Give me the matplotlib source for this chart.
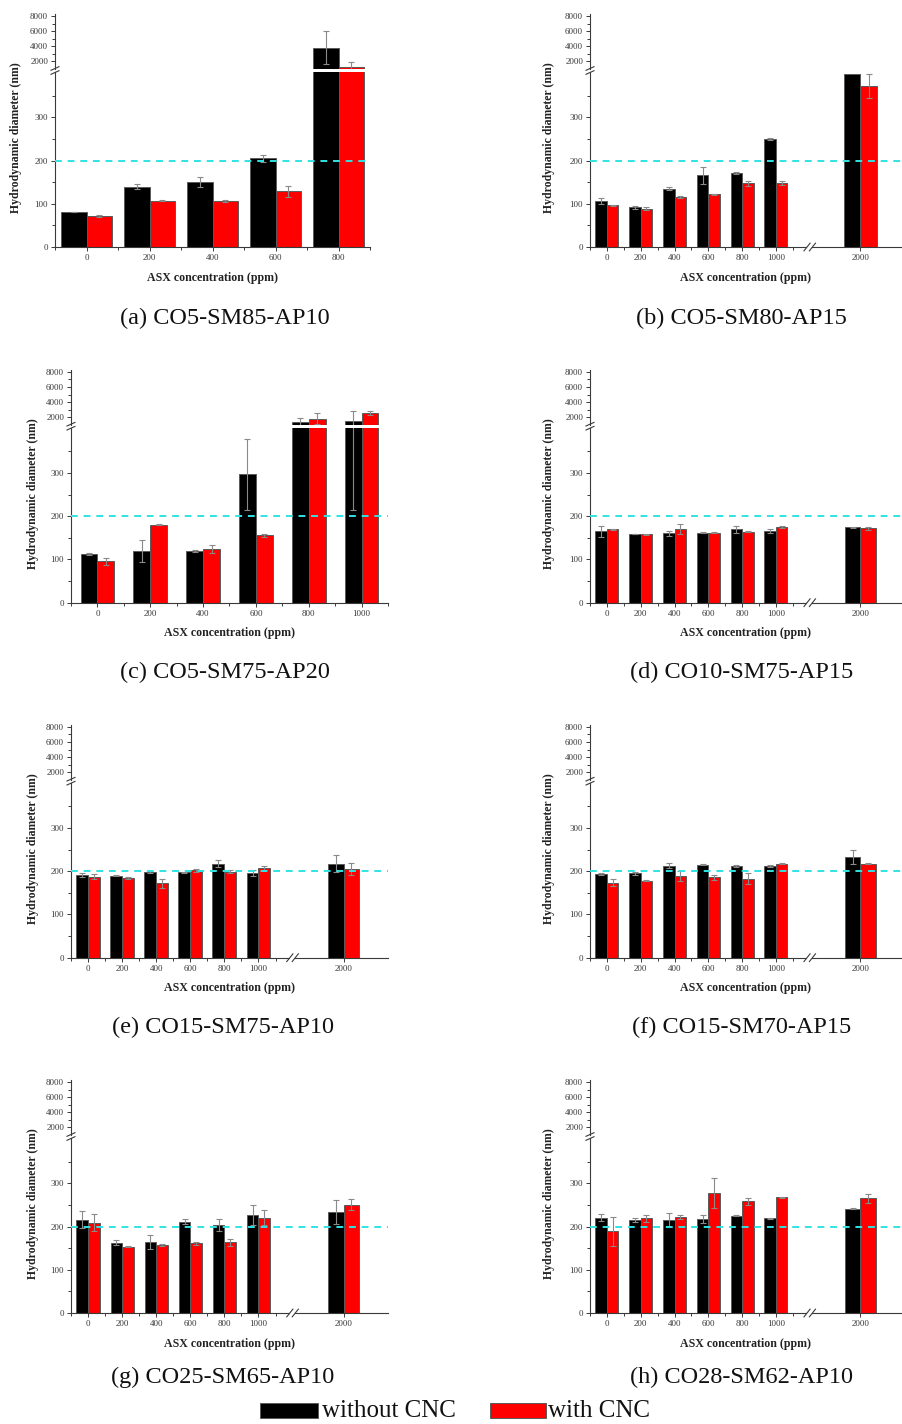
import matplotlib
matplotlib.use('Agg')
from matplotlib import pyplot as plt
from matplotlib.lines import Line2D
import matplotlib.patches as patches
import matplotlib.transforms as mtransforms
import numpy as np

plt.rcParams['font.family'] = ['Liberation Serif', 'DejaVu Serif']

W, H = 902, 1424

# concentrations (ppm)
labels5 = ['0', '200', '400', '600', '800']
labels6 = ['0', '200', '400', '600', '800', '1000']
labels7 = ['0', '200', '400', '600', '800', '1000', '2000']
pos5 = [0, 1, 2, 3, 4]
pos6 = [0, 1, 2, 3, 4, 5]
pos7 = [0, 1, 2, 3, 4, 5, 7.5]

# hydrodynamic diameter (nm), without / with CNC, and error bars
a_without = [81, 140, 151, 205, 3800]
a_without_err = [1, 5, 12, 8, 2200]
a_with = [71, 107, 106, 129, 1300]
a_with_err = [2, 1, 2, 13, 600]

b_without = [107, 92, 135, 166, 172, 250, 400]
b_without_err = [7, 4, 3, 20, 2, 2, 0]
b_with = [97, 89, 116, 122, 147, 148, 373]
b_with_err = [1, 4, 2, 1, 5, 5, 28]

c_without = [113, 119, 120, 297, 1380, 1500]
c_without_err = [3, 25, 3, 82, 530, 1285]
c_with = [96, 180, 124, 156, 1820, 2580]
c_with_err = [8, 1, 9, 3, 760, 300]

d_without = [165, 159, 161, 162, 170, 166, 175]
d_without_err = [12, 1, 6, 1, 8, 4, 1]
d_with = [170, 158, 170, 162, 164, 176, 172]
d_with_err = [1, 1, 11, 1, 1, 2, 3]

e_without = [192, 190, 199, 198, 218, 196, 218]
e_without_err = [5, 1, 2, 1, 8, 8, 20]
e_with = [187, 185, 172, 202, 199, 208, 206]
e_with_err = [6, 2, 10, 3, 4, 5, 14]

f_without = [193, 195, 213, 215, 213, 213, 233]
f_without_err = [2, 4, 6, 1, 2, 2, 17]
f_with = [174, 178, 189, 186, 183, 218, 218]
f_with_err = [9, 1, 12, 6, 13, 1, 1]

g_without = [216, 163, 165, 211, 204, 227, 234]
g_without_err = [20, 6, 16, 6, 14, 23, 27]
g_with = [209, 153, 157, 161, 164, 221, 251]
g_with_err = [20, 1, 2, 4, 8, 17, 13]

h_without = [220, 215, 215, 217, 225, 219, 241]
h_without_err = [8, 4, 17, 9, 1, 2, 1]
h_with = [189, 219, 222, 277, 259, 268, 265]
h_with_err = [34, 8, 5, 35, 8, 1, 10]

captions = ['(a) CO5-SM85-AP10', '(b) CO5-SM80-AP15', '(c) CO5-SM75-AP20',
            '(d) CO10-SM75-AP15', '(e) CO15-SM75-AP10', '(f) CO15-SM70-AP15',
            '(g) CO25-SM65-AP10', '(h) CO28-SM62-AP10']

zero_rows = [247, 602.7, 957.7, 1313]
caption_rows = [318, 672, 1027, 1377]
axcol = '#3a3a3a'


def fx(x):
    return x / W


def fy(y):
    return 1 - y / H


def style_axis(ax):
    for s in ['top', 'right']:
        ax.spines[s].set_visible(False)
    for s in ['left', 'bottom']:
        ax.spines[s].set_color(axcol)
        ax.spines[s].set_linewidth(0.8)
    ax.tick_params(which='both', direction='out', colors=axcol, labelsize=6.5,
                   width=0.7, pad=2)
    ax.tick_params(which='major', length=3)
    ax.tick_params(which='minor', length=2)


def draw_bars(ax, pos, wo, wo_err, wi, wi_err, bw, bw_last):
    widths = [bw] * len(pos)
    if len(pos) == 7:
        widths[-1] = bw_last
    for p, w, v1, e1, v2, e2 in zip(pos, widths, wo, wo_err, wi, wi_err):
        ax.bar(p - w / 2, v1, w, color='black', edgecolor='#5a5a5a', linewidth=0.7, zorder=2)
        ax.bar(p + w / 2, v2, w, color='#ff0000', edgecolor='#5a5a5a', linewidth=0.7, zorder=2)
        if e1 > 0:
            ax.errorbar(p - w / 2, v1, yerr=e1, fmt='none', ecolor='#8a8a8a',
                        elinewidth=0.8, capsize=2, capthick=0.8, zorder=3)
        if e2 > 0:
            ax.errorbar(p + w / 2, v2, yerr=e2, fmt='none', ecolor='#8a8a8a',
                        elinewidth=0.8, capsize=2, capthick=0.8, zorder=3)


def panel(L, R, row, xlim, pos, labels, wo, wo_err, wi, wi_err, bw, bw_last,
          ylab_x, cap, cap_x):
    z = zero_rows[row]
    low = fig.add_axes([fx(L), fy(z), fx(R - L), 175 / H])
    up = fig.add_axes([fx(L), fy(z - 178), fx(R - L), 55 / H])

    for ax in (low, up):
        style_axis(ax)
        draw_bars(ax, pos, wo, wo_err, wi, wi_err, bw, bw_last)
        ax.set_xlim(xlim)

    low.set_ylim(0, 405)
    low.set_yticks([0, 100, 200, 300])
    low.set_yticks([50, 150, 250, 350], minor=True)
    low.set_xticks(pos)
    low.set_xticklabels(labels)
    halfs = [k + 0.5 for k in range(-1, min(len(pos), 6))]
    low.set_xticks(halfs, minor=True)
    low.axhline(200, color='#30e3e3', lw=1.4, ls=(0, (3.5, 3)), zorder=4)
    low.set_xlabel('ASX concentration (ppm)', fontsize=8.6, fontweight='bold',
                   color='#222222', labelpad=7)

    up.set_ylim(1000, 8300)
    up.set_yticks([2000, 4000, 6000, 8000])
    up.set_yticks([3000, 5000, 7000], minor=True)
    up.spines['bottom'].set_visible(False)
    up.set_xticks([])

    # y-axis break marks
    yb = z - 176.5
    for d in (-2.0, 2.0):
        fig.add_artist(Line2D([fx(L - 4), fx(L + 4)], [fy(yb + d + 1.8), fy(yb + d - 1.8)],
                              color=axcol, lw=0.8))

    # x-axis break marks
    if len(pos) == 7:
        trans = mtransforms.blended_transform_factory(low.transData, low.transAxes)
        low.add_patch(patches.Rectangle((5.92, -0.012), 0.16, 0.024, transform=trans,
                                        facecolor='white', edgecolor='none',
                                        clip_on=False, zorder=5))
        for xc in (5.92, 6.08):
            low.plot([xc - 0.09, xc + 0.09], [-0.022, 0.022], transform=trans,
                     color=axcol, lw=0.8, clip_on=False, zorder=6)

    fig.text(fx(ylab_x), fy(z - 109), 'Hydrodynamic diameter (nm)', rotation=90,
             ha='center', va='center', fontsize=8.5, fontweight='bold', color='#222222')
    fig.text(fx(cap_x), fy(caption_rows[row]), cap, ha='center', va='center',
             fontsize=17.5, color='#111111')


fig = plt.figure(figsize=(W / 100, H / 100), dpi=100)

panel(55, 370, 0, (-0.5, 4.5), pos5, labels5, a_without, a_without_err, a_with, a_with_err,
      0.4, 0.4, 16, captions[0], 225)
panel(590, 901, 0, (-0.5, 8.7), pos7, labels7, b_without, b_without_err, b_with, b_with_err,
      0.34, 0.5, 549, captions[1], 741)
panel(71, 388, 1, (-0.5, 5.5), pos6, labels6, c_without, c_without_err, c_with, c_with_err,
      0.32, 0.32, 33, captions[2], 225)
panel(590, 901, 1, (-0.5, 8.7), pos7, labels7, d_without, d_without_err, d_with, d_with_err,
      0.34, 0.45, 549, captions[3], 742)
panel(71, 388, 2, (-0.5, 8.8), pos7, labels7, e_without, e_without_err, e_with, e_with_err,
      0.35, 0.45, 33, captions[4], 223)
panel(590, 901, 2, (-0.5, 8.7), pos7, labels7, f_without, f_without_err, f_with, f_with_err,
      0.34, 0.46, 549, captions[5], 742)
panel(71, 388, 3, (-0.5, 8.8), pos7, labels7, g_without, g_without_err, g_with, g_with_err,
      0.34, 0.45, 33, captions[6], 223)
panel(590, 901, 3, (-0.5, 8.7), pos7, labels7, h_without, h_without_err, h_with, h_with_err,
      0.34, 0.45, 549, captions[7], 742)

# legend
fig.add_artist(patches.Rectangle((fx(260), fy(1418)), fx(58), 15 / H, transform=fig.transFigure,
                                 facecolor='black', edgecolor='#5a5a5a', lw=0.7))
fig.text(fx(322), fy(1411), 'without CNC', ha='left', va='center', fontsize=18, color='#111111')
fig.add_artist(patches.Rectangle((fx(490), fy(1418)), fx(56), 15 / H, transform=fig.transFigure,
                                 facecolor='#ff0000', edgecolor='#5a5a5a', lw=0.7))
fig.text(fx(548), fy(1411), 'with CNC', ha='left', va='center', fontsize=18, color='#111111')

fig.savefig('out.png', dpi=100)
